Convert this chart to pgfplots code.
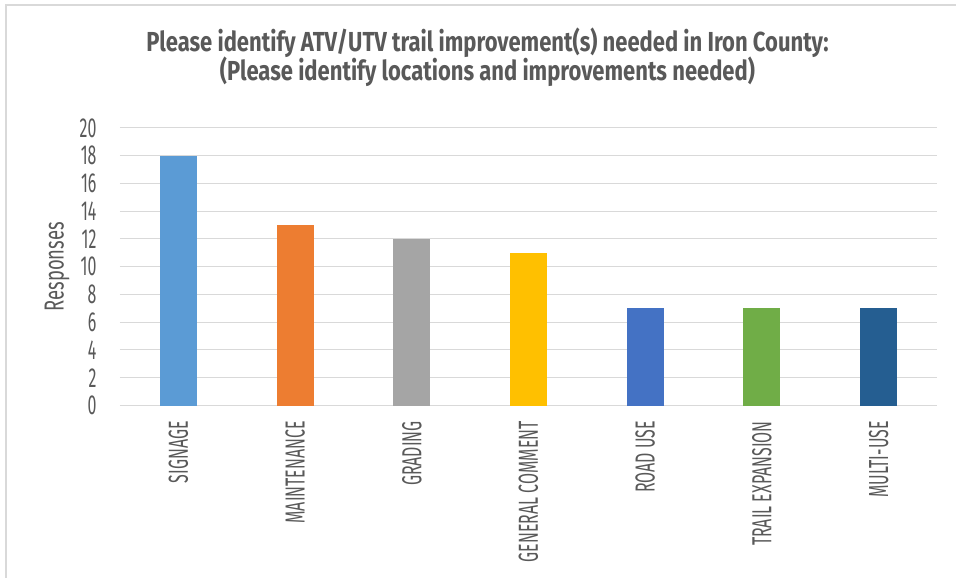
\documentclass[border=0pt]{standalone}
\usepackage{pgfplots}
\pgfplotsset{compat=1.18}
\usepackage{fontspec}
\setmainfont[FakeStretch=0.58]{Fira Sans}
\newfontfamily\titlefont[FakeStretch=0.8]{Fira Sans}
\newfontfamily\labelfont[FakeStretch=0.67]{Fira Sans}

\definecolor{txt}{HTML}{595959}
\definecolor{gridc}{HTML}{D9D9D9}
\definecolor{cA}{HTML}{5B9BD5}
\definecolor{cB}{HTML}{ED7D31}
\definecolor{cC}{HTML}{A5A5A5}
\definecolor{cD}{HTML}{FFC000}
\definecolor{cE}{HTML}{4472C4}
\definecolor{cF}{HTML}{70AD47}
\definecolor{cG}{HTML}{255E91}

\begin{document}
\begin{tikzpicture}
  \begin{axis}[
    scale only axis, width=817pt, height=277.5pt,
    xmin=-0.5, xmax=6.5, ymin=0, ymax=20,
    ytick={0,2,...,20},
    xtick={0,...,6},
    xticklabels={SIGNAGE,MAINTENANCE,GRADING,GENERAL COMMENT,ROAD USE,TRAIL EXPANSION,MULTI-USE},
    ymajorgrids, grid style={gridc, line width=1pt},
    axis lines*=left,
    x axis line style={gridc, line width=1.5pt, -},
    y axis line style={draw=none},
    major tick length=0pt,
    /pgf/number format/assume math mode=true,
    yticklabel style={text=txt, font=\fontsize{27.5}{28}\selectfont, anchor=east, xshift=-20pt},
    xticklabel style={text=txt, font=\fontsize{27.5}{28}\selectfont, rotate=90,
      anchor=east, inner sep=0pt, xshift=-15.5pt},
    ylabel={Responses},
    every axis y label/.style={at={(axis description cs:0,0.5)}, rotate=90, anchor=center,
      yshift=63pt, text=txt, font=\labelfont\fontsize{27.5}{28}\selectfont},
    ybar, bar width=37pt, bar shift=0pt,
    every axis plot/.append style={draw=none},
  ]
    \addplot[fill=cA] coordinates {(0,18)};
    \addplot[fill=cB] coordinates {(1,13)};
    \addplot[fill=cC] coordinates {(2,12)};
    \addplot[fill=cD] coordinates {(3,11)};
    \addplot[fill=cE] coordinates {(4,7)};
    \addplot[fill=cF] coordinates {(5,7)};
    \addplot[fill=cG] coordinates {(6,7)};
    \coordinate (O) at (rel axis cs:0,0);
  \end{axis}

  % page area, frame and title, placed around the plot box
  \begin{scope}[shift={(O)}, xshift=-120pt, yshift=-172.5pt, x=1pt, y=1pt]
    \pgfresetboundingbox
    \useasboundingbox (0,0) rectangle (956,578);
    \draw[gridc, line width=2pt] (6,0) -- (6,573) -- (956,573);
    \node[text=txt, font=\titlefont\bfseries\fontsize{27.5}{29}\selectfont]
      at (487.5,578-42.5) {Please identify ATV/UTV trail improvement(s) needed in Iron County:};
    \node[text=txt, font=\titlefont\bfseries\fontsize{27.5}{29}\selectfont]
      at (487.5,578-71.5) {(Please identify locations and improvements needed)};
  \end{scope}
\end{tikzpicture}
\end{document}
